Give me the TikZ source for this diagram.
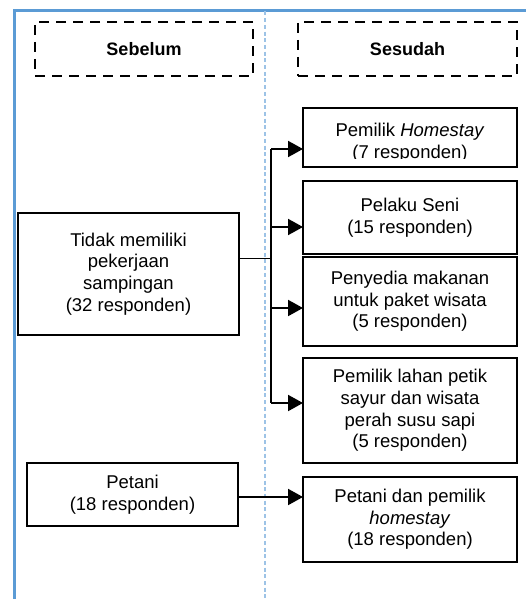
\documentclass[tikz,border=0pt]{standalone}
\usepackage{fontspec}
\setmainfont{Liberation Sans}
\usetikzlibrary{arrows.meta}
\definecolor{frameblue}{HTML}{5B9BD5}
\definecolor{guideblue}{HTML}{9DC3E6}
\begin{document}
\begin{tikzpicture}[x=1pt,y=-1pt,
  every node/.style={font=\fontsize{18.5}{21.7}\selectfont, inner sep=0pt, outer sep=0pt},
  stagebox/.style={draw, line width=2.2pt, dash pattern=on 10pt off 7pt,
    minimum width=#1, minimum height=54pt, font=\fontsize{18}{21.7}\selectfont\bfseries},
  jobbox/.style 2 args={draw, line width=2.2pt, align=center,
    minimum width=#1, minimum height=#2},
  flow/.style={line width=2pt, -{Triangle[length=15pt,width=16pt]}},
  trunkline/.style={line width=1.2pt},
  joinline/.style={line width=1pt}]
\useasboundingbox (0,0) rectangle (526,599);

% frame and column divider
\draw[frameblue, line width=2.5pt] (14.7,599) -- (14.7,10.3) -- (526,10.3);
\draw[guideblue, line width=2pt, dash pattern=on 4pt off 2.7pt] (265,11.5) -- (265,599);

% column headers
\node[stagebox=218pt] (sebelum) at (144,49) {Sebelum};
\node[stagebox=219pt] (sesudah) at (407.5,49) {Sesudah};

% before
\node[jobbox={221pt}{122pt}] (tidak) at (128.5,274)
  {Tidak memiliki\\pekerjaan\\sampingan\\(32 responden)};
\node[jobbox={211pt}{63pt}] (petani) at (132.5,494.5)
  {Petani\\(18 responden)};

% after
\node[jobbox={214pt}{59pt}] (homestay) at (410,137.5) {};
\begin{scope}
  \clip (303,108) rectangle (517,158.5);
  \node[align=center] (homestaytext) at (410,143) {Pemilik \textit{Homestay}\\(7 responden)};
\end{scope}
\node[jobbox={214pt}{73pt}] (pelaku) at (410,217.5) {Pelaku Seni\\(15 responden)};
\node[jobbox={214pt}{89pt}] (penyedia) at (410,301.5)
  {Penyedia makanan\\untuk paket wisata\\(5 responden)};
\node[jobbox={214pt}{105pt}] (lahan) at (410,410.5)
  {Pemilik lahan petik\\sayur dan wisata\\perah susu sapi\\(5 responden)};
\node[jobbox={214pt}{85pt}] (tanihome) at (410,519.5)
  {Petani dan pemilik\\\textit{homestay}\\(18 responden)};

% branching connector
\coordinate (join) at (271,258);
\coordinate (t1) at (271,149);
\coordinate (t2) at (271,227);
\coordinate (t3) at (271,308);
\coordinate (t4) at (271,403);
\draw[joinline] (tidak.east |- join) -- (join);
\draw[trunkline] (t1) -- (t4);
\draw[flow] (t1) -- (homestay.west |- t1);
\draw[flow] (t2) -- (pelaku.west |- t2);
\draw[flow] (t3) -- (penyedia.west |- t3);
\draw[flow] (t4) -- (lahan.west |- t4);

\draw[flow] (petani.east |- 0,497) -- (tanihome.west |- 0,497);
\end{tikzpicture}
\end{document}
